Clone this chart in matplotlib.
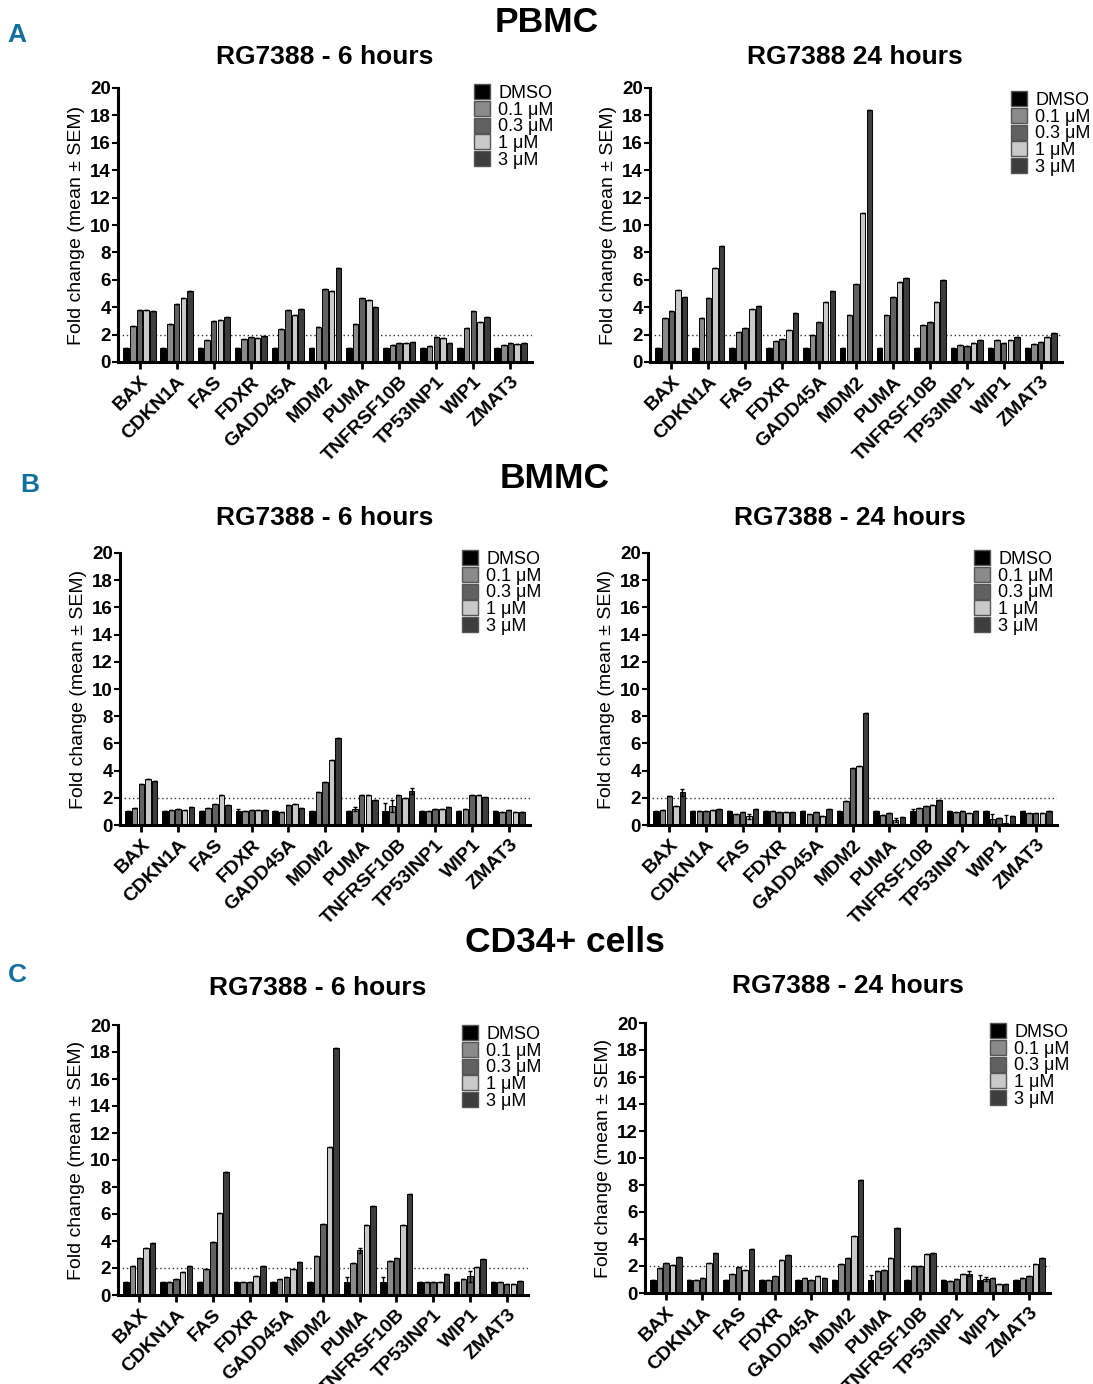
import matplotlib
matplotlib.use('Agg')
import matplotlib.pyplot as plt
from matplotlib.patches import Patch
import numpy as np

plt.rcParams['font.family'] = ['Liberation Sans', 'DejaVu Sans']

W, H = 1093, 1384

genes = ['BAX', 'CDKN1A', 'FAS', 'FDXR', 'GADD45A', 'MDM2', 'PUMA',
         'TNFRSF10B', 'TP53INP1', 'WIP1', 'ZMAT3']
doses = ['DMSO', '0.1 \u03bcM', '0.3 \u03bcM', '1 \u03bcM', '3 \u03bcM']
dose_colors = ['#000000', '#8a8a8a', '#616161', '#c9c9c9', '#3d3d3d']

# fold change per gene, columns = DMSO, 0.1, 0.3, 1, 3 uM
pbmc_6h = [
    [1.0, 2.6, 3.8, 3.8, 3.7],
    [1.0, 2.8, 4.2, 4.7, 5.2],
    [1.0, 1.6, 3.0, 3.1, 3.25],
    [1.0, 1.7, 1.8, 1.75, 1.9],
    [1.0, 2.4, 3.8, 3.4, 3.85],
    [1.0, 2.55, 5.3, 5.15, 6.85],
    [1.0, 2.8, 4.65, 4.55, 4.0],
    [1.0, 1.22, 1.37, 1.39, 1.45],
    [1.0, 1.15, 1.85, 1.75, 1.4],
    [1.0, 2.5, 3.75, 2.9, 3.3],
    [1.0, 1.27, 1.38, 1.34, 1.36],
]
pbmc_24h = [
    [1.0, 3.2, 3.75, 5.25, 4.75],
    [1.0, 3.2, 4.7, 6.85, 8.5],
    [1.0, 2.2, 2.45, 3.9, 4.1],
    [1.0, 1.5, 1.7, 2.3, 3.6],
    [1.0, 2.0, 2.9, 4.4, 5.2],
    [1.0, 3.4, 5.7, 10.9, 18.4],
    [1.0, 3.45, 4.75, 5.85, 6.15],
    [1.0, 2.7, 2.95, 4.35, 5.95],
    [1.0, 1.25, 1.15, 1.4, 1.6],
    [1.0, 1.6, 1.4, 1.6, 1.8],
    [1.0, 1.3, 1.45, 1.8, 2.15],
]
bmmc_6h = [
    [1.0, 1.25, 3.0, 3.35, 3.25],
    [1.0, 1.1, 1.15, 1.1, 1.35],
    [1.0, 1.25, 1.55, 2.2, 1.45],
    [1.0, 1.0, 1.08, 1.1, 1.12],
    [1.0, 0.94, 1.44, 1.55, 1.22],
    [1.0, 2.4, 3.15, 4.8, 6.4],
    [1.0, 1.2, 2.22, 2.18, 1.85],
    [1.0, 1.4, 2.17, 2.0, 2.5],
    [1.0, 1.02, 1.2, 1.18, 1.32],
    [1.0, 1.2, 2.2, 2.2, 2.07],
    [1.0, 0.94, 1.08, 0.98, 0.92],
]
bmmc_24h = [
    [1.0, 1.07, 2.15, 1.42, 2.4],
    [1.0, 1.05, 1.05, 1.07, 1.2],
    [1.0, 0.83, 0.98, 0.63, 1.17],
    [1.0, 1.05, 0.93, 0.95, 0.98],
    [1.0, 0.83, 0.93, 0.63, 1.15],
    [1.0, 1.78, 4.17, 4.32, 8.2],
    [1.0, 0.76, 0.85, 0.37, 0.61],
    [1.0, 1.24, 1.39, 1.49, 1.85],
    [1.0, 0.98, 1.05, 0.85, 1.02],
    [1.0, 0.44, 0.54, 0.17, 0.68],
    [1.0, 0.88, 0.88, 0.85, 1.0],
]
cd34_6h = [
    [1.0, 2.15, 2.75, 3.5, 3.85],
    [1.0, 0.95, 1.2, 1.68, 2.18],
    [1.0, 1.95, 3.95, 6.1, 9.1],
    [1.0, 0.93, 0.93, 1.43, 2.18],
    [1.0, 1.15, 1.33, 1.9, 2.43],
    [1.0, 2.9, 5.25, 10.93, 18.3],
    [1.0, 2.4, 3.3, 5.18, 6.6],
    [1.0, 2.55, 2.73, 5.18, 7.5],
    [1.0, 0.98, 0.95, 0.93, 1.55],
    [1.0, 1.2, 1.38, 2.05, 2.68],
    [1.0, 0.93, 0.78, 0.8, 1.05],
]
cd34_24h = [
    [1.0, 1.88, 2.25, 2.1, 2.64],
    [1.0, 0.99, 1.14, 2.22, 2.99],
    [1.0, 1.43, 1.95, 1.73, 3.28],
    [1.0, 0.99, 1.23, 2.44, 2.81],
    [1.0, 1.11, 0.99, 1.28, 1.11],
    [1.0, 2.17, 2.62, 4.25, 8.4],
    [1.0, 1.6, 1.73, 2.57, 4.81],
    [1.0, 2.02, 1.98, 2.91, 2.99],
    [1.0, 0.86, 1.01, 1.41, 1.43],
    [1.0, 1.04, 1.11, 0.69, 0.64],
    [1.0, 1.14, 1.28, 2.12, 2.62],
]

# larger SEM values visible in the picture: (gene index, dose index) -> sem
bmmc_6h_sem = {(3, 0): 0.15, (6, 1): 0.15, (7, 0): 0.6, (7, 1): 0.45, (7, 4): 0.25}
bmmc_24h_sem = {(0, 4): 0.25, (2, 3): 0.2, (6, 3): 0.15, (7, 0): 0.2,
                (9, 1): 0.4, (9, 3): 0.55}
cd34_6h_sem = {(6, 0): 0.35, (6, 2): 0.2, (7, 0): 0.3, (9, 2): 0.4}
cd34_24h_sem = {(6, 0): 0.35, (9, 0): 0.3, (9, 1): 0.15, (8, 4): 0.2}


def px_rect(x0, y0, x1, y1):
    return [x0 / W, 1 - y1 / H, (x1 - x0) / W, (y1 - y0) / H]


fig = plt.figure(figsize=(W / 100, H / 100), dpi=100)


def draw_panel(rect, data, sem, title, title_xy, legend_xy):
    ax = fig.add_axes(px_rect(*rect))
    vals = np.array(data)
    x = np.arange(len(genes))
    width = 0.15
    step = 0.18
    for j in range(len(doses)):
        err = [sem.get((i, j), 0.0) for i in range(len(genes))]
        ax.bar(x + (j - 2) * step, vals[:, j], width, color=dose_colors[j],
               edgecolor='black', linewidth=0.7, yerr=err,
               error_kw=dict(ecolor='black', elinewidth=1.0, capsize=1.5, capthick=1.0))
    ax.axhline(2, ls=(0, (1, 2)), color='#333333', lw=1.0, zorder=0)
    ax.set_xlim(-0.58, len(genes) - 0.42)
    ax.set_ylim(0, 20)
    ax.set_yticks(range(0, 21, 2))
    ax.set_xticks(x)
    ax.set_xticklabels(genes, rotation=45, ha='right', va='top',
                       rotation_mode='anchor', fontsize=14, fontweight='bold')
    for lab in ax.get_yticklabels():
        lab.set_fontweight('bold')
    ax.tick_params(axis='y', labelsize=13.5, width=1.5, length=4, pad=1)
    ax.tick_params(axis='x', width=2, length=5, pad=3)
    for s in ['top', 'right']:
        ax.spines[s].set_visible(False)
    for s in ['left', 'bottom']:
        ax.spines[s].set_linewidth(2.2)
    ax.set_ylabel('Fold change (mean \u00b1 SEM)', fontsize=14, labelpad=4)
    handles = [Patch(facecolor=c, edgecolor='#555555', linewidth=1.0) for c in dose_colors]
    ax.legend(handles, doses, loc='upper left',
              bbox_to_anchor=(legend_xy[0] / W, 1 - legend_xy[1] / H),
              bbox_transform=fig.transFigure, frameon=False, fontsize=13,
              handlelength=0.9, handleheight=0.9, handletextpad=0.45,
              labelspacing=-0.05, borderaxespad=0, borderpad=0)
    fig.text(title_xy[0] / W, 1 - title_xy[1] / H, title, ha='center', va='center',
             fontsize=19, fontweight='bold')
    return ax


draw_panel((118, 88, 532, 362), pbmc_6h, {}, 'RG7388 - 6 hours', (325, 57), (474, 84))
draw_panel((650, 88, 1062, 362), pbmc_24h, {}, 'RG7388 24 hours', (855, 57), (1011, 91))
draw_panel((120, 553, 530, 825), bmmc_6h, bmmc_6h_sem, 'RG7388 - 6 hours', (325, 518), (462, 550))
draw_panel((648, 553, 1057, 825), bmmc_24h, bmmc_24h_sem, 'RG7388 - 24 hours', (850, 518), (974, 550))
draw_panel((118, 1025, 528, 1295), cd34_6h, cd34_6h_sem, 'RG7388 - 6 hours', (318, 988), (462, 1025))
draw_panel((645, 1023, 1050, 1293), cd34_24h, cd34_24h_sem, 'RG7388 - 24 hours', (848, 986), (990, 1023))

for label, (x, y) in [('PBMC', (547, 23)), ('BMMC', (555, 478)), ('CD34+ cells', (565, 943))]:
    fig.text(x / W, 1 - y / H, label, ha='center', va='center', fontsize=25.5, fontweight='bold')

for label, (x, y) in [('A', (17, 35)), ('B', (30, 485)), ('C', (17, 975))]:
    fig.text(x / W, 1 - y / H, label, ha='center', va='center', fontsize=19,
             fontweight='bold', color='#11709e',
             family=['Liberation Sans Narrow', 'Liberation Sans'])

fig.savefig('out.png', dpi=100)
